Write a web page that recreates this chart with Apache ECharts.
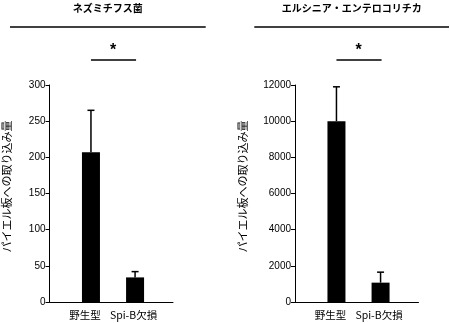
<!DOCTYPE html>
<html>
<head>
<meta charset="utf-8">
<script src="https://cdn.jsdelivr.net/npm/echarts@6/dist/echarts.min.js"></script>
<style>
  html, body { margin: 0; padding: 0; background: #fff; }
  #chart { width: 450px; height: 323px; }
</style>
</head>
<body>
<div id="chart"></div>
<script>
// Groups shown under each panel
const categories = ['野生型', 'Spi-B欠損'];
const categoryPos = [1, 2];

// Panel titles
const panelTitles = ['ネズミチフス菌', 'エルシニア・エンテロコリチカ'];
const yAxisTitle = 'パイエル板への取り込み量';

// Salmonella Typhimurium uptake: mean and upper error
const salmonellaMean = [207, 34];
const salmonellaErr = [58, 8];

// Yersinia enterocolitica uptake: mean and upper error
const yersiniaMean = [10000, 1070];
const yersiniaErr = [1900, 580];

// Value axis ranges
const salmonellaMax = 300, salmonellaStep = 50;
const yersiniaMax = 12000, yersiniaStep = 2000;

const numFont = '"Liberation Sans", Arial, sans-serif';
const jpFont = '"Noto Sans CJK JP", sans-serif';

function barData(means) {
  return means.map((v, i) => [categoryPos[i], v]);
}
function errData(means, errs) {
  return means.map((v, i) => [categoryPos[i], v, v + errs[i]]);
}

function errorRender(params, api) {
  const x = api.value(0);
  const base = api.coord([x, api.value(1)]);
  const top = api.coord([x, api.value(2)]);
  const style = { stroke: '#000', lineWidth: 1.5 };
  return {
    type: 'group',
    children: [
      { type: 'line', shape: { x1: base[0], y1: base[1], x2: top[0], y2: top[1] }, style },
      { type: 'line', shape: { x1: top[0] - 3.5, y1: top[1], x2: top[0] + 3.5, y2: top[1] }, style }
    ]
  };
}

// Significance bracket spanning both groups, drawn above the plot area
function sigRender(params, api) {
  const a = api.coord([api.value(0), api.value(2)]);
  const b = api.coord([api.value(1), api.value(2)]);
  const y = a[1] - 25;
  return {
    type: 'group',
    children: [
      { type: 'line', shape: { x1: a[0], y1: y, x2: b[0] + 1, y2: y }, style: { stroke: '#000', lineWidth: 1.5 } },
      { type: 'text', style: { text: '*', x: (a[0] + b[0]) / 2, y: y - 1, align: 'center', verticalAlign: 'bottom', font: 'bold 16px ' + numFont, fill: '#000' } }
    ]
  };
}

function xAxisFor(gridIndex) {
  return {
    type: 'value', gridIndex, min: 0.06, max: 2.86,
    splitLine: { show: false },
    axisTick: { show: false },
    axisLine: { show: true, onZero: false, lineStyle: { color: '#000', width: 1 } },
    axisLabel: {
      customValues: categoryPos,
      margin: 8,
      formatter: v => (v === 1 ? '{a|' : '{b|') + categories[v - 1] + '}',
      rich: {
        a: { fontFamily: jpFont, fontSize: 10.5, color: '#000', padding: [0, 12, 0, 0] },
        b: { fontFamily: jpFont, fontSize: 10.5, color: '#000', padding: [0, 3, 0, 0] }
      }
    }
  };
}

function yAxisFor(gridIndex, max, step, gap) {
  return {
    type: 'value', gridIndex, min: 0, max, interval: step,
    splitLine: { show: false },
    axisLine: { show: true, lineStyle: { color: '#000', width: 1 } },
    axisTick: { show: true, length: 4, lineStyle: { color: '#000' } },
    axisLabel: { color: '#000', fontFamily: numFont, fontSize: 10, margin: 4, formatter: v => String(v) },
    name: yAxisTitle, nameLocation: 'middle', nameRotate: 90, nameGap: gap,
    nameTextStyle: { fontFamily: jpFont, fontSize: 11, color: '#000', padding: [0, 0, 0, 14] }
  };
}

const chart = echarts.init(document.getElementById('chart'), null, { renderer: 'canvas' });
chart.setOption({
  animation: false,
  backgroundColor: '#fff',
  grid: [
    { left: 49.5, top: 85, width: 123.5, height: 217 },
    { left: 295, top: 85, width: 123.5, height: 217 }
  ],
  xAxis: [xAxisFor(0), xAxisFor(1)],
  yAxis: [yAxisFor(0, salmonellaMax, salmonellaStep, 37), yAxisFor(1, yersiniaMax, yersiniaStep, 47)],
  graphic: [
    { type: 'text', style: { text: panelTitles[0], x: 107.7, y: 8, align: 'center', verticalAlign: 'middle', font: 'bold 10px ' + jpFont, fill: '#000' } },
    { type: 'text', style: { text: panelTitles[1], x: 351.7, y: 8, align: 'center', verticalAlign: 'middle', font: 'bold 10px ' + jpFont, fill: '#000' } },
    { type: 'line', shape: { x1: 10, y1: 27, x2: 205.7, y2: 27 }, style: { stroke: '#000', lineWidth: 1.5 } },
    { type: 'line', shape: { x1: 254.3, y1: 27, x2: 449, y2: 27 }, style: { stroke: '#000', lineWidth: 1.5 } }
  ],
  series: [
    { type: 'bar', xAxisIndex: 0, yAxisIndex: 0, barWidth: 18, itemStyle: { color: '#000' }, data: barData(salmonellaMean) },
    { type: 'custom', xAxisIndex: 0, yAxisIndex: 0, renderItem: errorRender, data: errData(salmonellaMean, salmonellaErr), z: 3 },
    { type: 'custom', xAxisIndex: 0, yAxisIndex: 0, renderItem: sigRender, clip: false, data: [[categoryPos[0], categoryPos[1], salmonellaMax]] },
    { type: 'bar', xAxisIndex: 1, yAxisIndex: 1, barWidth: 18, itemStyle: { color: '#000' }, data: barData(yersiniaMean) },
    { type: 'custom', xAxisIndex: 1, yAxisIndex: 1, renderItem: errorRender, data: errData(yersiniaMean, yersiniaErr), z: 3 },
    { type: 'custom', xAxisIndex: 1, yAxisIndex: 1, renderItem: sigRender, clip: false, data: [[categoryPos[0], categoryPos[1], yersiniaMax]] }
  ]
});
</script>
</body>
</html>
